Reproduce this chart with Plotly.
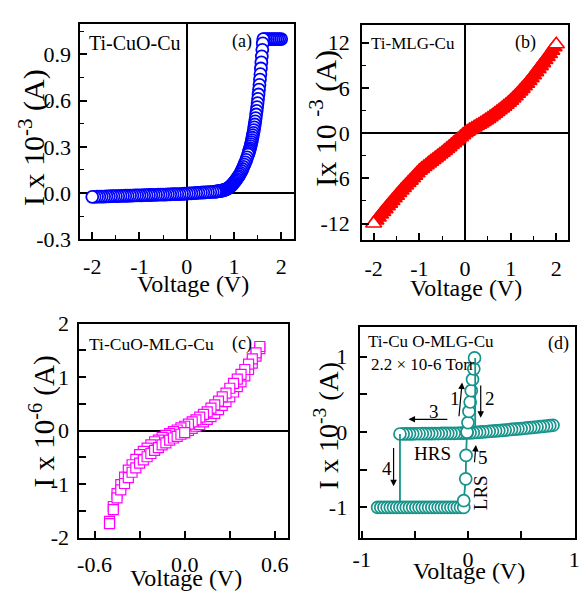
import plotly.graph_objects as go

W, H = 582, 602
FONT = "Liberation Serif"

# ---------------- Data ----------------
# (a) Ti-CuO-Cu
V_a = [-2.00, -1.95, -1.90, -1.85, -1.80, -1.75, -1.70, -1.65, -1.60, -1.55, -1.50, -1.45, -1.40, -1.35,
       -1.30, -1.25, -1.20, -1.15, -1.10, -1.05, -1.00, -0.95, -0.90, -0.85, -0.80, -0.75, -0.70, -0.65,
       -0.60, -0.55, -0.50, -0.45, -0.40, -0.35, -0.30, -0.25, -0.20, -0.15, -0.10, -0.05, 0.00, 0.05,
       0.10, 0.15, 0.20, 0.25, 0.30, 0.35, 0.40, 0.45, 0.50, 0.55,
       0.60, 0.62, 0.64, 0.66, 0.68, 0.70, 0.72, 0.74, 0.76, 0.78, 0.80, 0.82, 0.84, 0.86, 0.88, 0.90,
       0.92, 0.94, 0.96, 0.98, 1.00, 1.02, 1.04, 1.06, 1.08, 1.10, 1.12, 1.14, 1.16, 1.18, 1.20, 1.22,
       1.24, 1.26, 1.28, 1.30, 1.31, 1.32, 1.33, 1.34, 1.35, 1.36, 1.37, 1.38, 1.39, 1.40, 1.41, 1.42,
       1.43, 1.44, 1.45, 1.46, 1.47, 1.48, 1.49, 1.50, 1.51, 1.52, 1.53, 1.54, 1.55, 1.56, 1.57, 1.58,
       1.59, 1.60, 1.61, 1.62, 1.64, 1.68, 1.72, 1.76, 1.80, 1.84, 1.88, 1.92, 1.96, 2.00]
I_a = [-0.025, -0.025, -0.024, -0.024, -0.023, -0.023, -0.022, -0.022, -0.021, -0.021, -0.020, -0.020,
       -0.019, -0.019, -0.018, -0.018, -0.017, -0.017, -0.016, -0.016, -0.015, -0.015, -0.014, -0.014,
       -0.013, -0.013, -0.012, -0.012, -0.011, -0.011, -0.010, -0.010, -0.009, -0.009, -0.008, -0.008,
       -0.007, -0.007, -0.006, -0.005, -0.004, -0.003, -0.002, -0.001, 0.000, 0.001, 0.002, 0.003,
       0.004, 0.005, 0.006, 0.007,
       0.008, 0.009, 0.010, 0.011, 0.012, 0.013, 0.014, 0.015, 0.016, 0.018, 0.020, 0.022, 0.025, 0.028,
       0.032, 0.036, 0.041, 0.047, 0.053, 0.060, 0.067, 0.075, 0.083, 0.092, 0.101, 0.110, 0.120, 0.131,
       0.143, 0.156, 0.170, 0.184, 0.199, 0.215, 0.232, 0.250, 0.260, 0.270, 0.281, 0.292, 0.304, 0.317,
       0.330, 0.344, 0.359, 0.375, 0.391, 0.408, 0.426, 0.445, 0.465, 0.487, 0.510, 0.533, 0.558, 0.584,
       0.611, 0.640, 0.671, 0.703, 0.737, 0.772, 0.809, 0.848, 0.888, 0.930, 0.972, 1.000, 1.000, 1.000,
       1.000, 1.000, 1.000, 1.000, 1.000, 1.000, 1.000, 1.000]

# (b) Ti-MLG-Cu
V_b = [-2.00, -1.95, -1.90, -1.85, -1.80, -1.75, -1.70, -1.65, -1.60, -1.55, -1.50, -1.45, -1.40, -1.35,
       -1.30, -1.25, -1.20, -1.15, -1.10, -1.05, -1.00, -0.95, -0.90, -0.85, -0.80, -0.75, -0.70, -0.65,
       -0.60, -0.55, -0.50, -0.45, -0.40, -0.35, -0.30, -0.25, -0.20, -0.15, -0.10, -0.05, 0.00, 0.05,
       0.10, 0.15, 0.20, 0.25, 0.30, 0.35, 0.40, 0.45, 0.50, 0.55, 0.60, 0.65, 0.70, 0.75, 0.80, 0.85,
       0.90, 0.95, 1.00, 1.05, 1.10, 1.15, 1.20, 1.25, 1.30, 1.35, 1.40, 1.45, 1.50, 1.55, 1.60, 1.65,
       1.70, 1.75, 1.80, 1.85, 1.90, 1.95, 2.00]
I_b = [-12.0, -11.6, -11.2, -10.8, -10.45, -10.1, -9.7, -9.35, -9.0, -8.65, -8.3, -7.95, -7.6, -7.27,
       -6.95, -6.62, -6.3, -5.98, -5.65, -5.32, -5.0, -4.75, -4.5, -4.26, -4.02, -3.78, -3.55, -3.31,
       -3.08, -2.84, -2.6, -2.35, -2.1, -1.85, -1.58, -1.32, -1.06, -0.79, -0.53, -0.27, 0.0, 0.2,
       0.4, 0.58, 0.76, 0.94, 1.12, 1.3, 1.5, 1.7, 1.9, 2.12, 2.34, 2.57, 2.8, 3.03, 3.27, 3.52,
       3.77, 4.03, 4.3, 4.6, 4.9, 5.22, 5.55, 5.88, 6.22, 6.57, 6.93, 7.3, 7.7, 8.1, 8.5, 8.9,
       9.3, 9.7, 10.1, 10.5, 10.95, 11.4, 11.8]

# (c) Ti-CuO-MLG-Cu (two sweep branches)
V_c = [-0.500, -0.475, -0.450, -0.425, -0.400, -0.375, -0.350, -0.325, -0.300, -0.275, -0.250,
       -0.225, -0.200, -0.175, -0.150, -0.125, -0.100, -0.075, -0.050, -0.025, 0.000, 0.025, 0.050,
       0.075, 0.100, 0.125, 0.150, 0.175, 0.200, 0.225, 0.250, 0.275, 0.300, 0.325, 0.350, 0.375,
       0.400, 0.425, 0.450, 0.475, 0.500]
I_c_upper = [-1.70, -1.42, -1.18, -1.01, -0.87, -0.74, -0.64, -0.54, -0.45, -0.39, -0.33, -0.27, -0.21,
             -0.18, -0.13, -0.09, -0.06, -0.02, 0.01, 0.05, 0.08, 0.12, 0.16, 0.20, 0.25, 0.30, 0.35,
             0.42, 0.48, 0.55, 0.63, 0.70, 0.79, 0.88, 0.96, 1.05, 1.14, 1.24, 1.34, 1.45, 1.57]
I_c_lower = [-1.74, -1.48, -1.26, -1.11, -0.99, -0.88, -0.78, -0.70, -0.61, -0.55, -0.49, -0.43, -0.37,
             -0.32, -0.27, -0.23, -0.18, -0.14, -0.11, -0.07, -0.04, 0.00, 0.04, 0.08, 0.11, 0.16, 0.21,
             0.26, 0.32, 0.39, 0.47, 0.54, 0.63, 0.72, 0.82, 0.91, 1.02, 1.14, 1.26, 1.39, 1.53]

# (d) Ti-CuO-MLG-Cu, 2.2e-6 Torr: resistive switching loop
V_hrs = [-0.64, -0.61, -0.58, -0.55, -0.52, -0.49, -0.46, -0.43, -0.40, -0.37, -0.34, -0.31, -0.28,
         -0.25, -0.22, -0.19, -0.16, -0.13, -0.10, -0.07, -0.04, -0.01, 0.02, 0.05, 0.08, 0.11, 0.14,
         0.17, 0.20, 0.23, 0.26, 0.29, 0.32, 0.35, 0.38, 0.41, 0.44, 0.47, 0.50, 0.53, 0.56, 0.59,
         0.62, 0.65, 0.68, 0.71, 0.74, 0.77, 0.80]
I_hrs = [-0.025, -0.024, -0.024, -0.023, -0.023, -0.022, -0.022, -0.021, -0.021, -0.020, -0.020,
         -0.019, -0.019, -0.018, -0.018, -0.017, -0.016, -0.016, -0.015, -0.014, -0.013, -0.012,
         -0.010, -0.007, -0.004, -0.001, 0.002, 0.005, 0.009, 0.012, 0.016, 0.019, 0.023, 0.027,
         0.031, 0.035, 0.039, 0.043, 0.047, 0.051, 0.055, 0.059, 0.063, 0.068, 0.072, 0.077, 0.081,
         0.086, 0.091]
V_lrs = [-0.85, -0.82, -0.79, -0.76, -0.73, -0.70, -0.67, -0.64, -0.61, -0.58, -0.55, -0.52, -0.49,
         -0.46, -0.43, -0.40, -0.37, -0.34, -0.31, -0.28, -0.25, -0.22, -0.19, -0.16, -0.13, -0.10,
         -0.07, -0.04]
I_lrs = [-1.00, -1.00, -1.00, -1.00, -1.00, -1.00, -1.00, -1.00, -1.00, -1.00, -1.00, -1.00, -1.00,
         -1.00, -1.00, -1.00, -1.00, -1.00, -1.00, -1.00, -1.00, -1.00, -1.00, -1.00, -1.00, -1.00,
         -1.00, -1.00]
V_set = [-0.009, 0.000, 0.009, 0.021, 0.031, 0.043, 0.055, 0.062]
I_set = [0.000, 0.127, 0.275, 0.400, 0.550, 0.700, 0.840, 0.985]
V_reset = [0.068, 0.068]
I_reset = [0.985, 0.050]
V_step4 = [-0.64, -0.64]
I_step4 = [-0.025, -1.00]
V_step5 = [-0.040, -0.021, -0.018, -0.009]
I_step5 = [-0.910, -0.620, -0.310, 0.000]

# tick labels
xt_ab = [-2, -1, 0, 1, 2]
xt_ab_text = ["-2", "-1", "0", "1", "2"]
yt_a = [-0.3, 0.0, 0.3, 0.6, 0.9]
yt_a_text = ["-0.3", "0.0", "0.3", "0.6", "0.9"]
yt_b = [-12, -6, 0, 6, 12]
yt_b_text = ["-12", "-6", "0", "6", "12"]
xt_c = [-0.6, -0.3, 0.0, 0.3, 0.6]
xt_c_text = ["-0.6", "", "0.0", "", "0.6"]
yt_c = [-2, -1.5, -1, -0.5, 0, 0.5, 1, 1.5, 2]
yt_c_text = ["-2", "", "-1", "", "0", "", "1", "", "2"]
xt_d = [-1, -0.5, 0, 0.5, 1]
xt_d_text = ["-1", "", "0", "", "1"]
yt_d = [-1, -0.5, 0, 0.5, 1]
yt_d_text = ["-1", "", "0", "", "1"]

BLUE = "#0000ff"
RED = "#ff0000"
MAG = "#ff00ff"
TEAL = "#16938a"

# ---------------- Figure ----------------
fig = go.Figure()

# (a) sweep drawn from +2 V down to -2 V
fig.add_trace(go.Scatter(x=V_a[::-1], y=I_a[::-1], mode="markers", xaxis="x", yaxis="y",
                         marker=dict(symbol="circle", size=12, color="white",
                                     line=dict(color=BLUE, width=1.8))))

# (b) drawn from the centre outwards; end markers keep a white interior
order_b = sorted(range(len(V_b)), key=lambda k: abs(V_b[k]))
xb = [V_b[k] for k in order_b]
yb = [I_b[k] for k in order_b]
cb = ["white" if abs(v) >= 1.99 else RED for v in xb]
fig.add_trace(go.Scatter(x=xb, y=yb, mode="markers", xaxis="x2", yaxis="y2",
                         marker=dict(symbol="triangle-up", size=14, color=cb,
                                     line=dict(color=RED, width=1.6))))

# (c) sweep 0 -> +0.5 (lower), +0.5 -> -0.5 (upper), -0.5 -> 0 (lower)
n0 = V_c.index(0.0)
xc = V_c[n0:] + V_c[::-1] + V_c[:n0 + 1]
yc = I_c_lower[n0:] + I_c_upper[::-1] + I_c_lower[:n0 + 1]
fig.add_trace(go.Scatter(x=xc, y=yc, mode="markers", xaxis="x3", yaxis="y3",
                         marker=dict(symbol="square", size=10, color="white",
                                     line=dict(color=MAG, width=1.2))))

# (d)
mk_d = dict(symbol="circle", size=12, color="white", line=dict(color=TEAL, width=1.7))
fig.add_trace(go.Scatter(x=V_hrs[::-1], y=I_hrs[::-1], mode="markers", xaxis="x4", yaxis="y4", marker=mk_d))
fig.add_trace(go.Scatter(x=V_step4, y=I_step4, mode="lines", xaxis="x4", yaxis="y4",
                         line=dict(color=TEAL, width=1.8)))
fig.add_trace(go.Scatter(x=V_lrs, y=I_lrs, mode="markers", xaxis="x4", yaxis="y4", marker=mk_d))
fig.add_trace(go.Scatter(x=V_step5, y=I_step5, mode="lines+markers", xaxis="x4", yaxis="y4",
                         line=dict(color=TEAL, width=1.8), marker=mk_d))
fig.add_trace(go.Scatter(x=V_set, y=I_set, mode="markers", xaxis="x4", yaxis="y4", marker=mk_d))
fig.add_trace(go.Scatter(x=V_reset, y=I_reset, mode="lines", xaxis="x4", yaxis="y4",
                         line=dict(color=TEAL, width=1.8)))


def pxx(x):
    return x / W


def pxy(y):
    return 1 - y / H


def axis(dom, rng, anchor, tv, tt, minor_dtick=None, zeroline=False, standoff=3):
    d = dict(domain=dom, range=rng, anchor=anchor, showline=True, mirror=True, linecolor="black",
             linewidth=2, ticks="inside", ticklen=7, tickwidth=1.5, tickcolor="black",
             tickmode="array", tickvals=tv, ticktext=tt, showgrid=False, zeroline=zeroline,
             zerolinecolor="black", zerolinewidth=1.6, ticklabelstandoff=standoff,
             ticklabeloverflow="allow",
             tickfont=dict(family=FONT, size=22, color="black"))
    if minor_dtick:
        d["minor"] = dict(ticks="inside", ticklen=4, tickwidth=1.3, tickcolor="black",
                          tickmode="linear", tick0=0, dtick=minor_dtick, showgrid=False)
    return d


fig.update_layout(
    width=W, height=H, margin=dict(l=0, r=0, t=0, b=0),
    paper_bgcolor="white", plot_bgcolor="white", showlegend=False,
    xaxis=axis([pxx(75), pxx(293)], [-2.25, 2.27], "y", xt_ab, xt_ab_text, 0.5, True, 6),
    yaxis=axis([pxy(237), pxy(13)], [-0.3, 1.095], "x", yt_a, yt_a_text, 0.15, True, 3),
    xaxis2=axis([pxx(362.7), pxx(573)], [-2.25, 2.26], "y2", xt_ab, xt_ab_text, 0.5, True, 7),
    yaxis2=axis([pxy(238), pxy(14)], [-14.2, 14.3], "x2", yt_b, yt_b_text, 3, True, 6),
    xaxis3=axis([pxx(74), pxx(287.3)], [-0.70, 0.69], "y3", xt_c, xt_c_text, None, False, 6),
    yaxis3=axis([pxy(548.3), pxy(325)], [-2, 2], "x3", yt_c, yt_c_text, None, True, 4),
    xaxis4=axis([pxx(360), pxx(579.5)], [-1.02, 1.003], "y4", xt_d, xt_d_text, None, False, 1),
    yaxis4=axis([pxy(548.3), pxy(328.3)], [-1.4, 1.4], "x4", yt_d, yt_d_text, None, False, 6),
)

ann = []


def text(x, y, s, size, angle=0):
    ann.append(dict(x=pxx(x), y=pxy(y), xref="paper", yref="paper", text=s, showarrow=False,
                    xanchor="center", yanchor="middle", textangle=angle,
                    font=dict(family=FONT, size=size, color="black")))


# axis titles
text(190, 284, "Voltage (V)", 24)
text(469, 288, "Voltage (V)", 24)
text(183, 591, "Voltage (V)", 24)
text(472, 583, "Voltage (V)", 24)
text(26, 131, "I x 10<sup>-3</sup> (A)", 30, -90)
text(323, 111, "Ix 10&nbsp;<sup>-3</sup>&nbsp;(A)", 30, -90)
text(36, 427, "I x 10<sup>-6</sup> (A)", 29, -90)
text(326, 431, "I x 10<sup>-3</sup> (A)", 28, -90)

# panel texts
text(131, 32, "Ti-CuO-Cu", 20)
text(240, 31, "(a)", 18)
text(415, 33, "Ti-MLG-Cu", 17)
text(529.7, 32, "(b)", 18)
text(148, 346, "Ti-CuO-MLG-Cu", 17.5)
text(240, 346, "(c)", 18)
text(433, 344, "Ti-Cu O-MLG-Cu", 17)
text(425, 368, "2.2 × 10-6 Torr", 17)
text(563, 346, "(d)", 18)

# (d) step arrows and labels
arrows = [(-0.086, 0.19, -0.055, 0.66), (0.12, 0.64, 0.12, 0.19), (-0.18, 0.17, -0.56, 0.17),
          (-0.70, -0.19, -0.70, -0.72), (0.060, -0.42, 0.075, -0.17)]
for (x0, y0, x1, y1) in arrows:
    ann.append(dict(x=x1, y=y1, ax=x0, ay=y0, xref="x4", yref="y4", axref="x4", ayref="y4",
                    text="", showarrow=True, arrowhead=2, arrowsize=1.1, arrowwidth=1.2,
                    arrowcolor="black"))
labels_d = [(-0.123, 0.445, "1"), (0.206, 0.445, "2"), (-0.317, 0.275, "3"), (-0.76, -0.49, "4"),
            (0.145, -0.34, "5"), (-0.33, -0.28, "HRS")]
for (x, y, s) in labels_d:
    ann.append(dict(x=x, y=y, xref="x4", yref="y4", text=s, showarrow=False,
                    font=dict(family=FONT, size=19, color="black")))
ann.append(dict(x=0.114, y=-0.81, xref="x4", yref="y4", text="LRS", showarrow=False, textangle=-90,
                font=dict(family=FONT, size=19, color="black")))

fig.update_layout(annotations=ann)
fig.write_html("out.html")
